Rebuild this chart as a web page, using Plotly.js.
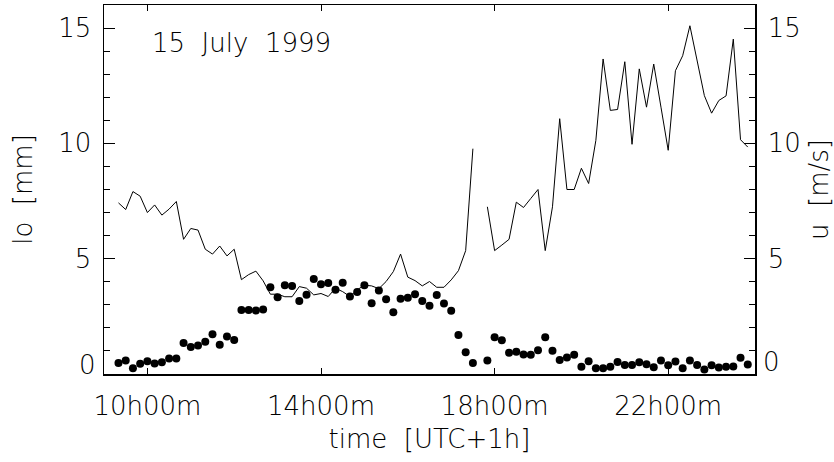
<!DOCTYPE html>
<html>
<head>
<meta charset="utf-8">
<script src="https://cdn.plot.ly/plotly-3.0.1.min.js"></script>
<style>
html,body{margin:0;padding:0;background:#fff;}
#chart{width:834px;height:462px;}
</style>
</head>
<body>
<div id="chart"></div>
<script>
// sample times (local time, UTC+1h), every 10 minutes
const times = [
 "09:20","09:30","09:40","09:50","10:00","10:10","10:20","10:30","10:40","10:50",
 "11:00","11:10","11:20","11:30","11:40","11:50","12:00","12:10","12:20","12:30",
 "12:40","12:50","13:00","13:10","13:20","13:30","13:40","13:50","14:00","14:10",
 "14:20","14:30","14:40","14:50","15:00","15:10","15:20","15:30","15:40","15:50",
 "16:00","16:10","16:20","16:30","16:40","16:50","17:00","17:10","17:20","17:30",
 "17:40","17:50","18:00","18:10","18:20","18:30","18:40","18:50","19:00","19:10",
 "19:20","19:30","19:40","19:50","20:00","20:10","20:20","20:30","20:40","20:50",
 "21:00","21:10","21:20","21:30","21:40","21:50","22:00","22:10","22:20","22:30",
 "22:40","22:50","23:00","23:10","23:20","23:30","23:40","23:50"
];
// lo [mm] (dots)
const lo = [
 0.48,0.58,0.25,0.44,0.55,0.46,0.51,0.67,0.67,1.34,
 1.17,1.24,1.40,1.72,1.27,1.63,1.47,2.78,2.78,2.75,
 2.80,3.76,3.33,3.85,3.82,3.17,3.44,4.12,3.89,3.95,
 3.65,3.96,3.36,3.56,3.85,3.07,3.62,3.24,2.68,3.26,
 3.31,3.46,3.16,2.96,3.43,3.06,2.74,1.69,0.94,0.48,
 null,0.58,1.59,1.46,0.92,0.97,0.85,0.84,1.03,1.59,
 1.01,0.61,0.72,0.84,0.31,0.55,0.25,0.25,0.31,0.52,
 0.39,0.39,0.51,0.42,0.29,0.58,0.38,0.54,0.25,0.58,
 0.39,0.19,0.38,0.28,0.31,0.32,0.70,0.41
];
// u [m/s] (line)
const u = [
 7.42,7.13,7.91,7.71,7.00,7.33,6.89,7.15,7.48,5.84,
 6.31,6.24,5.41,5.20,5.55,5.12,5.41,4.09,4.31,4.46,
 4.04,3.46,3.46,3.35,3.35,3.79,3.72,3.43,3.49,3.36,
 3.72,3.57,3.36,3.65,3.85,3.82,3.70,4.01,4.44,5.20,
 4.20,4.05,3.82,4.01,3.76,3.76,4.08,4.48,5.35,9.77,
 null,7.25,5.35,5.59,5.84,7.45,7.22,7.61,8.00,5.35,
 7.25,11.07,8.00,8.00,8.92,8.26,10.13,13.66,11.43,11.47,
 13.54,9.96,13.23,11.57,13.44,11.57,9.70,13.15,13.80,15.10,
 13.59,12.07,11.31,11.86,12.06,14.52,10.16,9.84
];
const xTickVals = [10,14,18,22];
const xTickText = ["10h00m","14h00m","18h00m","22h00m"];
const yTickVals = [5,10,15];

const hours = times.map(t => { const p = t.split(":"); return +p[0] + (+p[1])/60; });

const NB = "\u00a0";
const FONT = {family: "DejaVu Sans, sans-serif", size: 26, color: "#000", weight: 200};

const traces = [
  {x: hours, y: lo, type: "scatter", mode: "markers", yaxis: "y",
   marker: {color: "#000", size: 8}, showlegend: false, hoverinfo: "none"},
  {x: hours, y: u, type: "scatter", mode: "lines", yaxis: "y2", connectgaps: false,
   line: {color: "#000", width: 1}, showlegend: false, hoverinfo: "none"}
];

const yCommon = {
  range: [0, 16], tickvals: yTickVals, ticks: "inside", ticklen: 11, tickwidth: 1,
  tickcolor: "#000", minor: {dtick: 1, tick0: 0, ticks: "inside", ticklen: 6, tickwidth: 1, tickcolor: "#000"},
  showline: true, linecolor: "#000", linewidth: 1.5, showgrid: false, zeroline: false,
  tickfont: FONT, ticklabelstandoff: 6, fixedrange: true
};

const layout = {
  width: 834, height: 462,
  margin: {l: 104, r: 79, t: 5, b: 88},
  paper_bgcolor: "#fff", plot_bgcolor: "#fff",
  font: FONT,
  xaxis: {
    range: [9, 24], tickvals: xTickVals, ticktext: xTickText,
    ticks: "inside", ticklen: 6, tickwidth: 1, tickcolor: "#000",
    showline: true, mirror: "ticks", linecolor: "#000", linewidth: 1.5,
    showgrid: false, zeroline: false, tickfont: FONT, ticklabelstandoff: 8,
    title: {text: "time " + NB + "[UTC+1h]", font: FONT, standoff: 10}
  },
  yaxis: Object.assign({}, yCommon, {side: "left",
    title: {text: "lo " + NB + "[mm]", font: FONT, standoff: 18}}),
  yaxis2: Object.assign({}, yCommon, {side: "right", overlaying: "y",
    title: {text: "u " + NB + "[m/s]", font: FONT, standoff: 10}}),
  annotations: [
    {text: "15" + NB + NB + "July" + NB + NB + "1999", xref: "paper", yref: "paper", x: (150-104)/651, y: 0.898,
     xanchor: "left", yanchor: "middle", showarrow: false, font: FONT},
    {text: "0", xref: "paper", yref: "y", x: 0, y: 0, xanchor: "right", yanchor: "middle",
     xshift: -6, yshift: 9, showarrow: false, font: FONT},
    {text: "0", xref: "paper", yref: "y", x: 1, y: 0, xanchor: "left", yanchor: "middle",
     xshift: 6, yshift: 12, showarrow: false, font: FONT}
  ]
};

Plotly.newPlot("chart", traces, layout, {staticPlot: true, displayModeBar: false});
</script>
</body>
</html>
